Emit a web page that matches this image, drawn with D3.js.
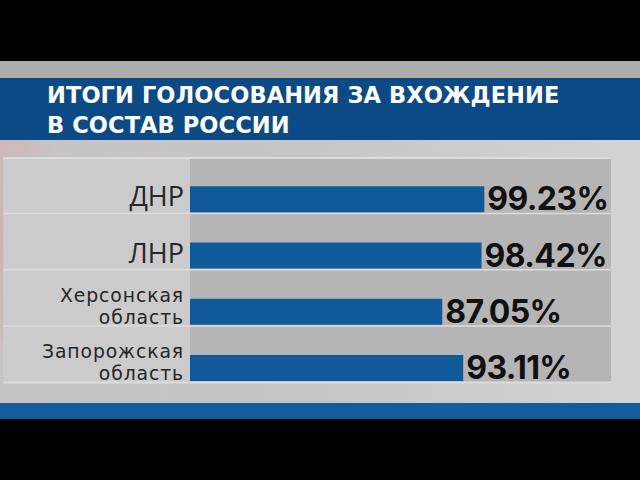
<!DOCTYPE html>
<html>
<head>
<meta charset="utf-8">
<script src="https://cdn.jsdelivr.net/npm/d3@7"></script>
<style>
  html, body { margin: 0; padding: 0; background: #000; overflow: hidden; }
</style>
</head>
<body>
<div id="chart"></div>
<script>
const titleLines  = ["ИТОГИ ГОЛОСОВАНИЯ ЗА ВХОЖДЕНИЕ", "В СОСТАВ РОССИИ"];
const categories  = [["ДНР"], ["ЛНР"], ["Херсонская", "область"], ["Запорожская", "область"]];
const values      = [99.23, 98.42, 87.05, 93.11];
const valueLabels = ["99.23%", "98.42%", "87.05%", "93.11%"];

const W = 640, H = 480;
const HEADER_BLUE = "#0c4a86";
const BAR_BLUE    = "#105a9c";
const STRIPE_BLUE = "#135d9c";

const svg = d3.select("#chart").append("svg")
  .attr("width", W).attr("height", H)
  .style("display", "block");

const defs = svg.append("defs");

const bgGrad = defs.append("linearGradient")
  .attr("id", "bg").attr("x1", 0).attr("x2", 1).attr("y1", 0).attr("y2", 0);
bgGrad.append("stop").attr("offset", 0).attr("stop-color", "#c7c3c3");
bgGrad.append("stop").attr("offset", 0.5).attr("stop-color", "#c6c6c6");
bgGrad.append("stop").attr("offset", 1).attr("stop-color", "#d3d3d3");

const pink = defs.append("radialGradient")
  .attr("id", "pink").attr("cx", 0).attr("cy", 0.5).attr("r", 1);
pink.append("stop").attr("offset", 0).attr("stop-color", "#d9a9a9").attr("stop-opacity", 0.7);
pink.append("stop").attr("offset", 1).attr("stop-color", "#d9a9a9").attr("stop-opacity", 0);

// Frame: black letterbox, grey backdrop, header, bottom stripe
svg.append("rect").attr("x", 0).attr("y", 0).attr("width", W).attr("height", H).attr("fill", "#000");
svg.append("rect").attr("x", 0).attr("y", 61).attr("width", W).attr("height", 17).attr("fill", "#acacac");
svg.append("rect").attr("x", 0).attr("y", 140).attr("width", W).attr("height", 263).attr("fill", "url(#bg)");
svg.append("rect").attr("x", 0).attr("y", 140).attr("width", 60).attr("height", 200).attr("fill", "url(#pink)");
svg.append("rect").attr("x", 0).attr("y", 78).attr("width", W).attr("height", 62).attr("fill", HEADER_BLUE);
svg.append("rect").attr("x", 0).attr("y", 403).attr("width", W).attr("height", 16).attr("fill", STRIPE_BLUE);

// Title, two lines
svg.append("g")
  .attr("fill", "#fff")
  .attr("font-family", "'DejaVu Sans', sans-serif")
  .attr("font-weight", 700)
  .attr("font-size", 22.5)
  .attr("letter-spacing", 0.1)
  .selectAll("text")
  .data(titleLines)
  .join("text")
    .attr("x", 47)
    .attr("y", (d, i) => 103 + i * 30)
    .text(d => d);

// Scales
const y = d3.scaleBand()
  .domain(d3.range(values.length))
  .range([158, 383]);

const x = d3.scaleLinear()
  .domain([14, 100])
  .range([190, 487]);

const PANEL_L = 3, PANEL_R = 611, LABEL_R = 190;
const BAR_H = 26;

const rows = svg.append("g")
  .selectAll("g")
  .data(values)
  .join("g")
    .attr("transform", (d, i) => `translate(0,${y(i)})`);

rows.append("rect")
  .attr("x", PANEL_L).attr("width", LABEL_R - PANEL_L)
  .attr("height", y.bandwidth())
  .attr("fill", "#cbcbcb");

rows.append("rect")
  .attr("x", LABEL_R).attr("width", PANEL_R - LABEL_R)
  .attr("height", y.bandwidth())
  .attr("fill", "#b5b5b5");

rows.append("rect")
  .attr("x", PANEL_L).attr("width", PANEL_R - PANEL_L)
  .attr("y", y.bandwidth() - 1.5).attr("height", 2)
  .attr("fill", "#dcdcdc");

rows.append("rect")
  .attr("x", x(14))
  .attr("y", y.bandwidth() - BAR_H - 2)
  .attr("width", d => x(d) - x(14))
  .attr("height", BAR_H)
  .attr("fill", BAR_BLUE);

rows.append("text")
  .attr("x", d => x(d) + 3)
  .attr("y", y.bandwidth() - 4)
  .attr("fill", "#111")
  .attr("font-family", "Inter, 'Open Sans', sans-serif")
  .attr("font-weight", 700)
  .attr("font-size", 32)
  .attr("letter-spacing", -0.6)
  .style("font-variant-numeric", "proportional-nums")
  .text((d, i) => valueLabels[i]);

// Category labels (right-aligned, one or two lines)
rows.append("g")
  .attr("fill", "#262626")
  .attr("text-anchor", "end")
  .each(function(d, i) {
    const lines = categories[i];
    const g = d3.select(this);
    if (lines.length === 1) {
      g.append("text")
        .attr("x", 184).attr("y", y.bandwidth() - 8)
        .attr("font-family", "'Open Sans', sans-serif")
        .attr("font-size", 27)
        .text(lines[0]);
    } else {
      lines.forEach((s, j) => {
        g.append("text")
          .attr("x", 184)
          .attr("y", y.bandwidth() - 25 + j * 22)
          .attr("font-family", "'DejaVu Sans', sans-serif")
          .attr("font-size", 18.8)
          .attr("letter-spacing", 0.9)
          .text(s);
      });
    }
  });

// top border line of the panel
svg.append("rect")
  .attr("x", PANEL_L).attr("y", 157).attr("width", PANEL_R - PANEL_L).attr("height", 2)
  .attr("fill", "#dcdcdc");
</script>
</body>
</html>
